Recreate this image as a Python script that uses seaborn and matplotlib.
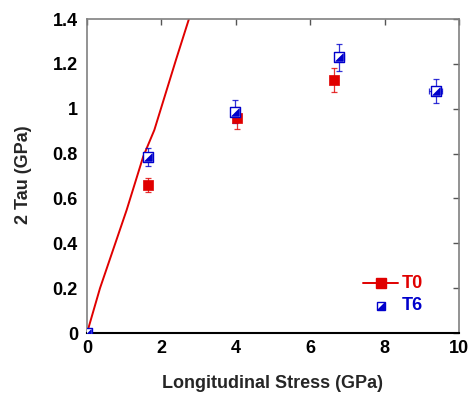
import numpy as np
import pandas as pd
import matplotlib
matplotlib.use("Agg")
import matplotlib.pyplot as plt
import seaborn as sns

# T0 series: longitudinal stress (GPa), 2 tau (GPa), y error
t0_stress = [0.0, 1.63, 4.02, 6.64]
t0_tau = [0.0, 0.66, 0.958, 1.128]
t0_err = [0.0, 0.031, 0.05, 0.055]

# T6 series
t6_stress = [0.0, 1.63, 3.98, 6.78, 9.37]
t6_tau = [0.0, 0.786, 0.987, 1.229, 1.079]
t6_err = [0.0, 0.04, 0.05, 0.06, 0.053]
t6_xerr = [0.0, 0.0, 0.0, 0.12, 0.17]

# Reference curve
curve_stress = [0.0, 0.35, 1.065, 1.51, 1.81, 2.39, 2.74]
curve_tau = [0.0, 0.2, 0.548, 0.786, 0.905, 1.217, 1.4]

xticks = [0, 2, 4, 6, 8, 10]
yticks = [0, 0.2, 0.4, 0.6, 0.8, 1.0, 1.2, 1.4]

RED = "#e00000"
BLUE = "#0000cc"

sns.set_style("white")
plt.rcParams["font.family"] = ["Liberation Sans", "DejaVu Sans"]
plt.rcParams["font.weight"] = "bold"

fig = plt.figure(figsize=(4.70, 3.95), dpi=100)
ax = fig.add_axes([87 / 470, 1 - 333 / 395, 372 / 470, 314 / 395])

df_t0 = pd.DataFrame({"x": t0_stress, "y": t0_tau})
df_t6 = pd.DataFrame({"x": t6_stress, "y": t6_tau})
df_curve = pd.DataFrame({"x": curve_stress, "y": curve_tau})

sns.lineplot(data=df_curve, x="x", y="y", color=RED, lw=1.4, ax=ax,
             sort=False, estimator=None, zorder=2)

# error bars
ax.errorbar(t0_stress[1:], t0_tau[1:], yerr=t0_err[1:], fmt="none",
            ecolor=RED, elinewidth=0.9, capsize=2.5, capthick=0.9, zorder=3, alpha=0.8)
ax.errorbar(t6_stress[1:], t6_tau[1:], yerr=t6_err[1:], xerr=t6_xerr[1:], fmt="none",
            ecolor=BLUE, elinewidth=0.9, capsize=2.5, capthick=0.9, zorder=3, alpha=0.8)

sns.scatterplot(data=df_t0, x="x", y="y", marker="s", s=45, color=RED,
                edgecolor=RED, linewidth=0.5, ax=ax, zorder=4)

# half-filled square: white box with a filled lower-right triangle
sns.scatterplot(data=df_t6, x="x", y="y", marker="s", s=50, color="white",
                edgecolor=BLUE, linewidth=1.0, ax=ax, zorder=5)
tri = [(1, -1), (1, 1), (-1, -1), (1, -1)]
sns.scatterplot(data=df_t6, x="x", y="y", marker=tri, s=30, color=BLUE,
                edgecolor=BLUE, linewidth=0.5, ax=ax, zorder=6)

ax.set_xlim(0, 10)
ax.set_ylim(0, 1.4)
ax.set_xticks(xticks)
ax.set_xticklabels([f"{v:g}" for v in xticks])
ax.set_yticks(yticks)
ax.set_yticklabels([f"{v:g}" for v in yticks])
ax.tick_params(direction="in", length=4, width=1, top=True, right=True,
               labelsize=13, colors="#555555", labelcolor="black")
ax.tick_params(axis="y", pad=6.5)
ax.tick_params(axis="x", pad=5)
for lab in ax.get_xticklabels() + ax.get_yticklabels():
    lab.set_fontweight("bold")

for side in ["left", "top", "right"]:
    ax.spines[side].set_color("#808080")
    ax.spines[side].set_linewidth(1.2)
ax.spines["bottom"].set_color("black")
ax.spines["bottom"].set_linewidth(1.5)

ax.set_xlabel("Longitudinal Stress (GPa)", fontsize=13, fontweight="bold", labelpad=13)
ax.set_ylabel("2 Tau (GPa)", fontsize=13, fontweight="bold")
ax.yaxis.set_label_coords(-55 / 372, (333 - 175) / 314)

# legend drawn in axes coordinates
lx0, lx1 = (363 - 87) / 372, (398 - 87) / 372
ly0 = (333 - 283) / 314
ly1 = (333 - 306) / 314
ax.plot([lx0, lx1], [ly0, ly0], color=RED, lw=1.4, transform=ax.transAxes, clip_on=False)
ax.plot([(lx0 + lx1) / 2], [ly0], marker="s", ms=6.5, color=RED, transform=ax.transAxes)
ax.plot([(lx0 + lx1) / 2], [ly1], marker="s", ms=6, mfc="white", mec=BLUE, mew=1.0,
        transform=ax.transAxes)
ax.plot([(lx0 + lx1) / 2], [ly1], marker=tri, ms=5, color=BLUE, transform=ax.transAxes)
ax.text((402 - 87) / 372, ly0, "T0", color=RED, fontsize=13, fontweight="bold",
        va="center", ha="left", transform=ax.transAxes)
ax.text((402 - 87) / 372, ly1, "T6", color=BLUE, fontsize=13, fontweight="bold",
        va="center", ha="left", transform=ax.transAxes)

fig.savefig("out.png", dpi=100)
